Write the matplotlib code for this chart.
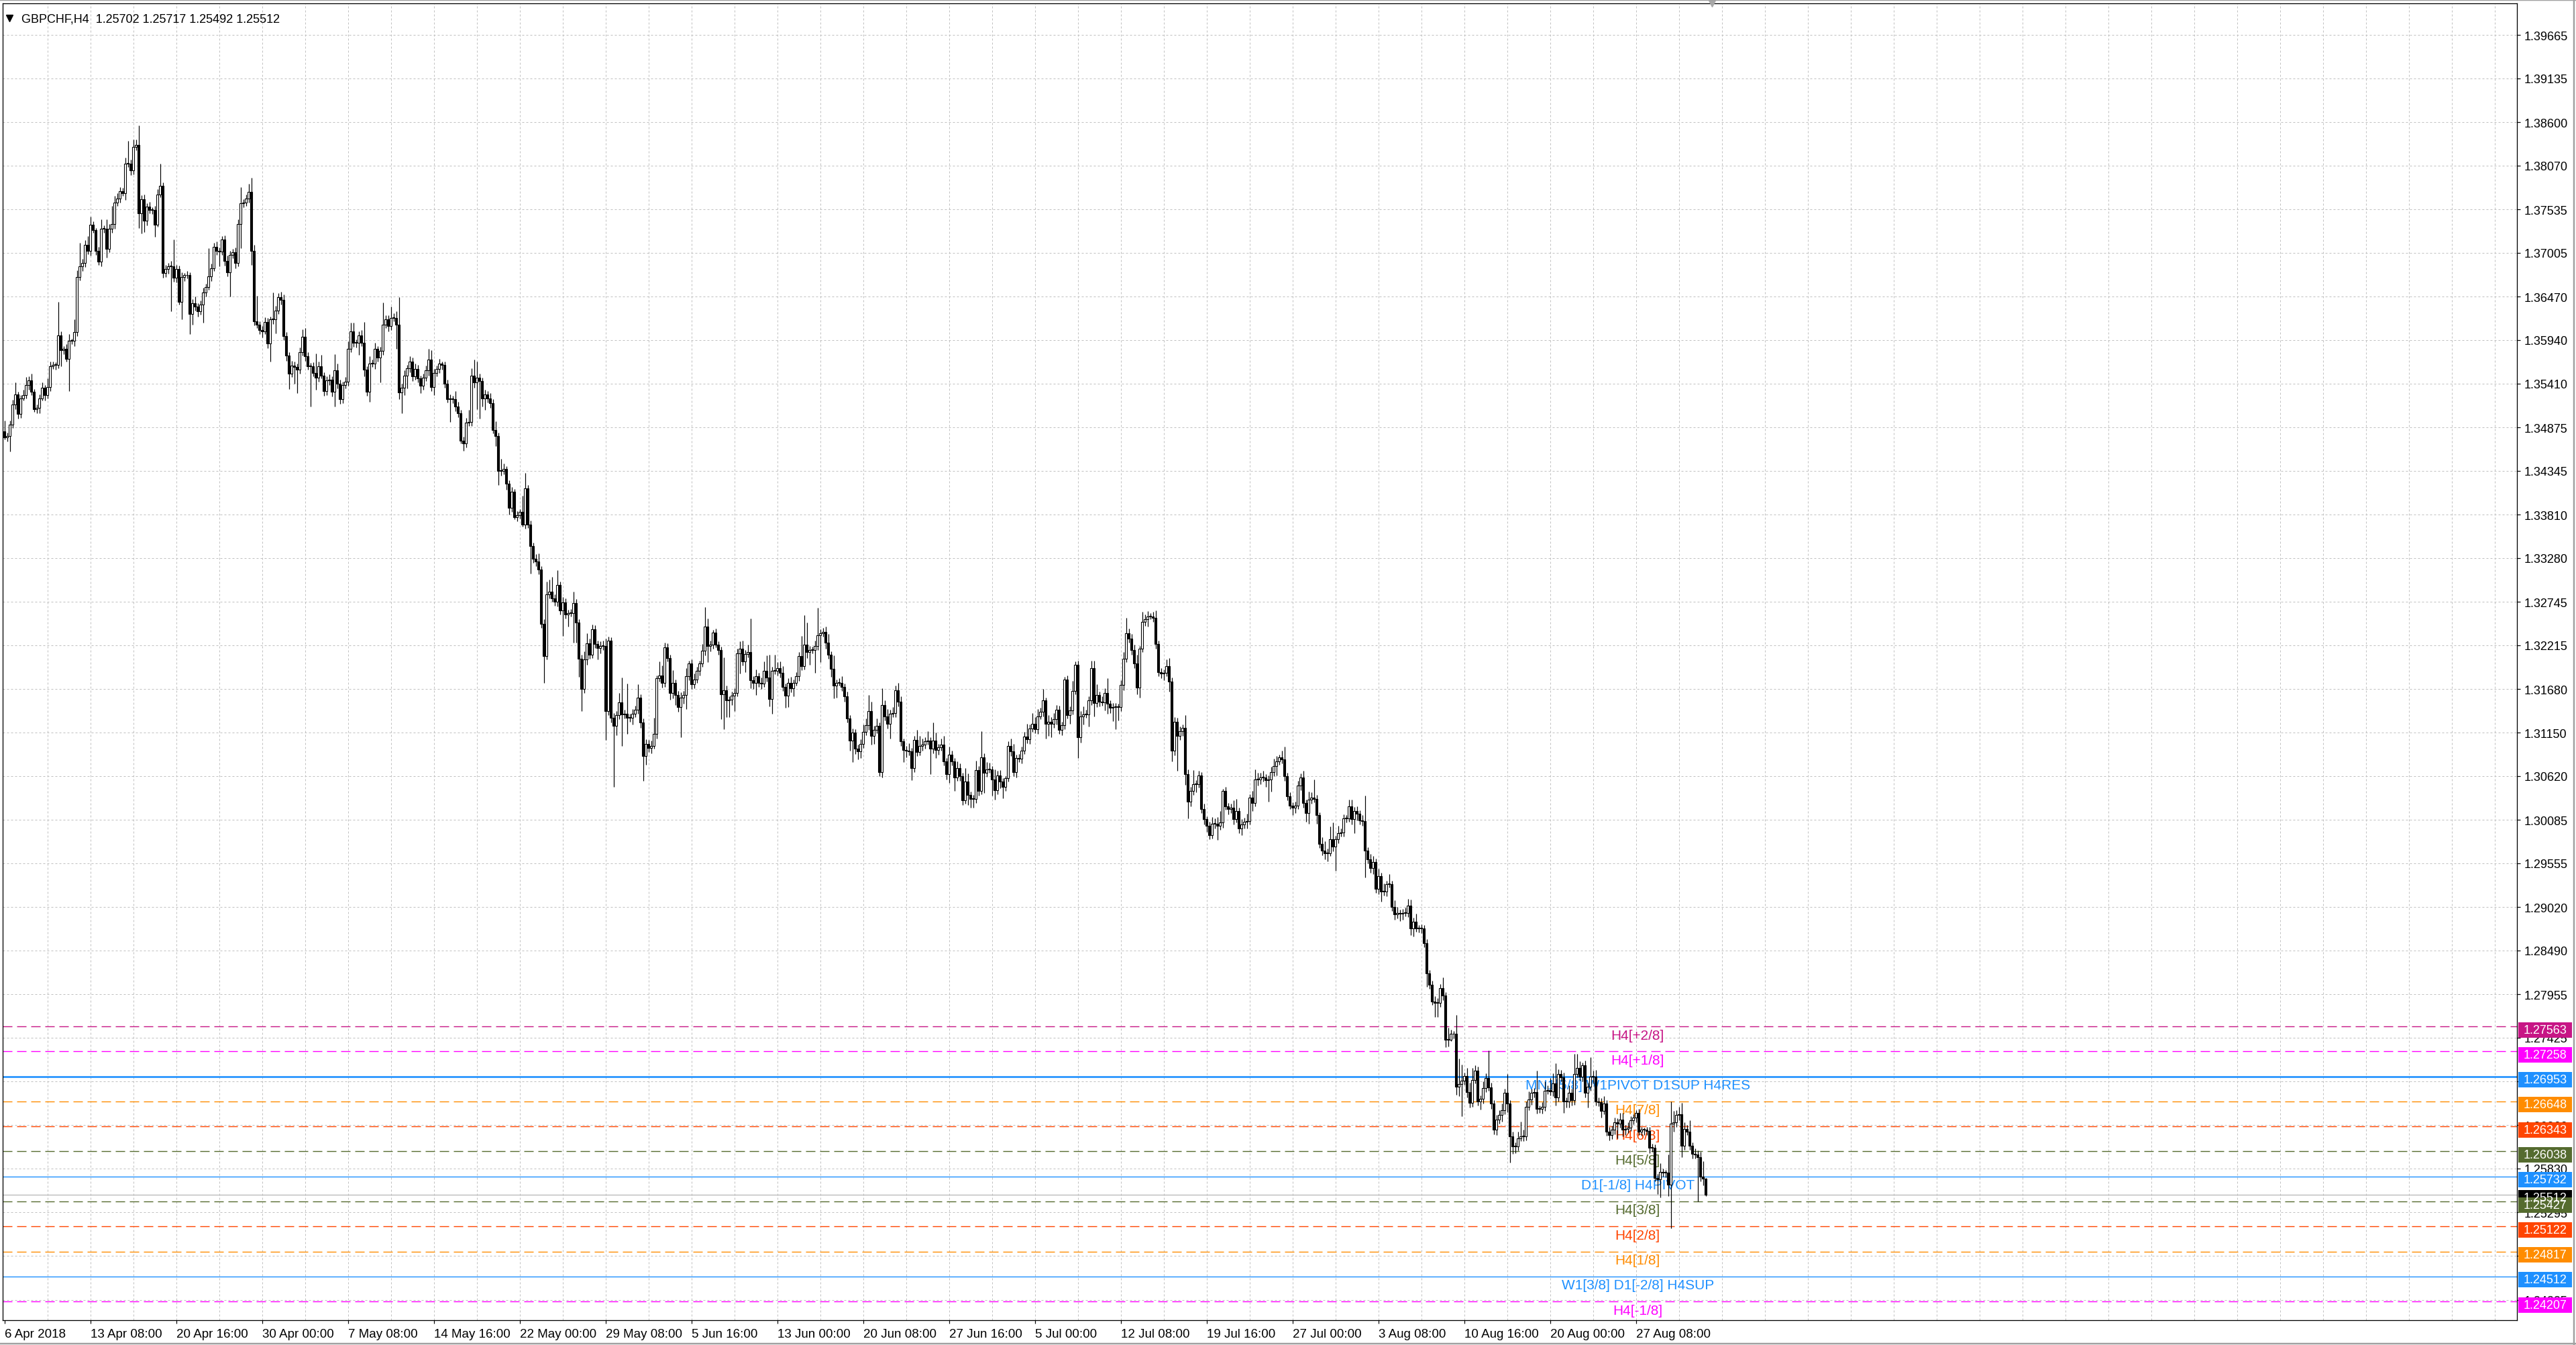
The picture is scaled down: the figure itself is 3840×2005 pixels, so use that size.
import matplotlib.pyplot as plt
import matplotlib.transforms as mtransforms
from matplotlib.patches import Rectangle
import numpy as np

plt.rcParams['font.family'] = ['Liberation Sans', 'DejaVu Sans']

header = "GBPCHF,H4  1.25702 1.25717 1.25492 1.25512"

# H4 candles, prices in 1/10000 (13475 -> 1.3475), open = previous close
first_open = 13483
closes = [
    13475, 13477, 13491, 13515, 13528, 13504, 13523, 13527, 13539, 13545,
    13531, 13510, 13511, 13523, 13536, 13527, 13537, 13562, 13564, 13564,
    13600, 13582, 13583, 13571, 13593, 13593, 13604, 13671, 13684, 13688,
    13710, 13703, 13735, 13728, 13703, 13690, 13730, 13730, 13705, 13730,
    13736, 13762, 13767, 13776, 13773, 13809, 13809, 13801, 13830, 13832,
    13749, 13766, 13740, 13757, 13753, 13753, 13735, 13772, 13782, 13676,
    13681, 13684, 13684, 13670, 13681, 13641, 13671, 13673, 13673, 13626,
    13639, 13635, 13629, 13637, 13652, 13659, 13672, 13682, 13708, 13703,
    13702, 13717, 13691, 13677, 13698, 13701, 13688, 13736, 13761, 13762,
    13767, 13775, 13703, 13617, 13613, 13606, 13605, 13616, 13590, 13619,
    13619, 13630, 13646, 13643, 13599, 13575, 13553, 13563, 13561, 13558,
    13579, 13598, 13574, 13562, 13562, 13554, 13548, 13562, 13551, 13532,
    13545, 13546, 13531, 13557, 13541, 13522, 13539, 13543, 13583, 13605,
    13591, 13591, 13600, 13591, 13558, 13531, 13565, 13565, 13583, 13573,
    13581, 13613, 13619, 13611, 13621, 13621, 13613, 13530, 13536, 13551,
    13560, 13568, 13550, 13559, 13547, 13538, 13548, 13557, 13570, 13537,
    13554, 13559, 13565, 13564, 13541, 13522, 13522, 13522, 13513, 13505,
    13471, 13468, 13493, 13494, 13551, 13542, 13548, 13544, 13523, 13528,
    13523, 13517, 13484, 13477, 13434, 13434, 13437, 13419, 13389, 13409,
    13378, 13380, 13384, 13369, 13413, 13369, 13343, 13327, 13324, 13314,
    13248, 13208, 13284, 13287, 13279, 13275, 13295, 13264, 13274, 13259,
    13261, 13261, 13273, 13249, 13205, 13168, 13204, 13224, 13210, 13241,
    13223, 13218, 13221, 13221, 13141, 13227, 13133, 13123, 13136, 13152,
    13137, 13138, 13133, 13133, 13138, 13143, 13158, 13127, 13086, 13101,
    13096, 13099, 13113, 13181, 13185, 13176, 13219, 13206, 13163, 13176,
    13161, 13146, 13158, 13161, 13184, 13199, 13174, 13180, 13190, 13199,
    13215, 13244, 13221, 13222, 13237, 13222, 13216, 13162, 13167, 13154,
    13155, 13160, 13163, 13212, 13217, 13202, 13211, 13213, 13179, 13176,
    13184, 13176, 13175, 13190, 13182, 13156, 13190, 13190, 13194, 13188,
    13171, 13160, 13176, 13169, 13176, 13184, 13208, 13196, 13222, 13213,
    13216, 13216, 13221, 13234, 13236, 13238, 13225, 13210, 13193, 13172,
    13176, 13176, 13171, 13159, 13132, 13105, 13115, 13095, 13092, 13101,
    13116, 13124, 13141, 13111, 13118, 13123, 13067, 13149, 13135, 13126,
    13138, 13139, 13167, 13153, 13104, 13094, 13093, 13092, 13072, 13106,
    13091, 13099, 13100, 13104, 13105, 13095, 13105, 13094, 13097, 13100,
    13080, 13064, 13088, 13080, 13060, 13072, 13062, 13032, 13055, 13039,
    13034, 13034, 13069, 13044, 13085, 13066, 13070, 13070, 13058, 13045,
    13063, 13055, 13049, 13059, 13099, 13092, 13067, 13084, 13083, 13093,
    13110, 13107, 13120, 13126, 13119, 13135, 13140, 13154, 13126, 13128,
    13126, 13131, 13143, 13118, 13124, 13180, 13136, 13142, 13166, 13198,
    13109, 13135, 13137, 13137, 13154, 13194, 13151, 13161, 13153, 13152,
    13163, 13150, 13145, 13146, 13146, 13146, 13173, 13205, 13236, 13230,
    13216, 13199, 13170, 13217, 13250, 13253, 13257, 13257, 13255, 13223,
    13189, 13187, 13188, 13196, 13177, 13093, 13128, 13111, 13117, 13121,
    13064, 13031, 13044, 13052, 13052, 13063, 13022, 13009, 13001, 12990,
    13004, 13004, 13001, 13005, 13044, 13025, 13022, 13023, 13009, 13019,
    12998, 13003, 13006, 13007, 13036, 13029, 13058, 13058, 13060, 13060,
    13057, 13058, 13067, 13074, 13080, 13085, 13082, 13062, 13037, 13026,
    13023, 13026, 13050, 13060, 13029, 13017, 13033, 13036, 13034, 13014,
    12979, 12971, 12968, 12968, 12985, 12976, 12985, 12992, 12993, 13010,
    13010, 13025, 13009, 13019, 13016, 13008, 13007, 12971, 12960, 12950,
    12957, 12924, 12940, 12921, 12921, 12930, 12930, 12902, 12893, 12895,
    12894, 12895, 12895, 12904, 12876, 12884, 12876, 12876, 12876, 12858,
    12821, 12807, 12787, 12785, 12785, 12803, 12794, 12740, 12740, 12747,
    12747, 12683, 12686, 12690, 12696, 12676, 12663, 12691, 12702, 12665,
    12668, 12681, 12693, 12682, 12662, 12630, 12643, 12648, 12654, 12675,
    12662, 12622, 12610, 12610, 12620, 12622, 12622, 12658, 12667, 12675,
    12676, 12656, 12656, 12658, 12678, 12679, 12677, 12687, 12670, 12698,
    12694, 12665, 12665, 12675, 12666, 12698, 12706, 12695, 12709, 12675,
    12683, 12695, 12695, 12665, 12664, 12653, 12662, 12628, 12624, 12630,
    12639, 12638, 12643, 12630, 12631, 12633, 12642, 12645, 12651, 12628,
    12630, 12630, 12629, 12608, 12608, 12571, 12570, 12579, 12578, 12578,
    12563, 12638, 12639, 12648, 12649, 12611, 12631, 12628, 12611, 12601,
    12600, 12597, 12573, 12570.2, 12551.2,
]
# wick length above / below the body, same units
wick_up = [
    13, 4, 5, 6, 14, 3, 4, 6, 10, 5,
    8, 3, 4, 5, 6, 3, 10, 6, 4, 3,
    41, 5, 4, 6, 8, 3, 15, 8, 29, 5,
    6, 11, 10, 4, 3, 5, 11, 4, 11, 6,
    22, 8, 6, 5, 4, 8, 28, 5, 9, 7,
    24, 5, 6, 4, 6, 3, 5, 6, 27, 4,
    5, 4, 7, 33, 5, 4, 6, 3, 5, 4,
    5, 8, 4, 5, 6, 4, 34, 5, 5, 6,
    4, 4, 5, 6, 5, 4, 6, 5, 20, 4,
    5, 10, 17, 7, 31, 4, 5, 6, 5, 4,
    33, 6, 5, 7, 7, 5, 4, 6, 5, 4,
    6, 9, 11, 5, 4, 5, 24, 6, 14, 4,
    5, 6, 4, 20, 8, 5, 4, 6, 9, 10,
    10, 4, 5, 6, 25, 4, 9, 5, 8, 4,
    5, 27, 5, 5, 14, 6, 8, 33, 5, 6,
    4, 6, 5, 6, 5, 4, 5, 6, 13, 12,
    5, 4, 6, 3, 4, 5, 6, 4, 10, 6,
    4, 5, 6, 15, 9, 19, 20, 5, 4, 5,
    4, 6, 5, 11, 4, 15, 6, 3, 4, 6,
    3, 5, 4, 20, 19, 4, 5, 4, 6, 10,
    4, 5, 15, 15, 18, 5, 18, 4, 6, 5,
    4, 5, 14, 5, 4, 5, 10, 12, 6, 6,
    5, 4, 5, 6, 9, 5, 4, 6, 5, 11,
    30, 5, 37, 5, 6, 5, 16, 4, 5, 6,
    5, 6, 20, 4, 17, 12, 6, 5, 4, 15,
    4, 5, 6, 5, 10, 4, 5, 7, 5, 4,
    8, 24, 10, 5, 3, 5, 4, 4, 40, 5,
    4, 5, 6, 5, 9, 10, 5, 9, 41, 5,
    8, 4, 6, 12, 19, 28, 5, 20, 7, 8,
    8, 4, 5, 7, 4, 5, 5, 25, 36, 27,
    5, 4, 6, 33, 5, 5, 6, 10, 4, 16,
    4, 5, 8, 4, 6, 4, 5, 4, 5, 6,
    9, 8, 20, 12, 5, 9, 4, 20, 5, 9,
    5, 7, 5, 9, 6, 4, 5, 9, 4, 5,
    12, 12, 8, 5, 12, 4, 22, 10, 4, 8,
    11, 4, 10, 5, 4, 8, 5, 4, 17, 10,
    4, 5, 12, 5, 32, 5, 9, 8, 4, 12,
    5, 6, 4, 3, 5, 9, 9, 4, 5, 5,
    6, 16, 5, 13, 8, 9, 5, 14, 4, 8,
    6, 8, 6, 5, 4, 3, 5, 5, 12, 4,
    5, 6, 10, 6, 5, 9, 9, 13, 4, 6,
    6, 18, 4, 5, 5, 4, 6, 8, 19, 6,
    5, 6, 11, 4, 12, 6, 6, 4, 5, 9,
    4, 5, 4, 8, 10, 5, 6, 5, 5, 4,
    15, 6, 5, 17, 5, 5, 4, 6, 4, 5,
    8, 6, 8, 14, 2, 5, 4, 5, 9, 15,
    4, 6, 5, 9, 4, 8, 12, 8, 6, 8,
    4, 5, 6, 9, 6, 3, 8, 16, 4, 5,
    4, 5, 6, 5, 8, 4, 10, 6, 22, 5,
    4, 8, 11, 5, 15, 20, 4, 9, 5, 5,
    4, 8, 8, 5, 6, 4, 6, 31, 4, 7,
    7, 4, 9, 4, 10, 4, 12, 4, 8, 7,
    4, 5, 6, 8, 7, 5, 10, 4, 5, 4,
    5, 4, 5, 6, 6, 5, 13, 4, 15, 5,
    4, 23, 31, 20, 4, 10, 12, 15, 7, 5,
    4, 8, 6, 34, 6, 4, 5, 6, 8, 5,
    23, 4, 6, 5, 8, 18, 8, 7, 10, 5,
    5, 26, 4, 6, 11, 5, 14, 12, 24, 6,
    5, 6, 5, 9, 5, 25, 17, 8, 3, 6,
    5, 24, 7, 8, 5, 5, 9, 4, 6, 5,
    6, 5, 8, 8, 5, 6, 5, 4, 3, 5,
    4, 3, 4, 5, 5, 4, 5, 10, 4, 3,
    22, 27, 14, 6, 9, 14, 8, 5, 14, 4,
    6, 5, 6, 19, 1.5,
]
wick_down = [
    2, 5, 19, 4, 5, 6, 5, 3, 4, 6,
    4, 4, 5, 6, 3, 7, 4, 5, 3, 6,
    4, 20, 5, 3, 39, 4, 6, 5, 4, 6,
    5, 4, 6, 3, 5, 4, 6, 5, 10, 4,
    5, 6, 4, 5, 3, 8, 4, 6, 5, 4,
    18, 25, 14, 6, 4, 5, 15, 3, 4, 6,
    5, 6, 55, 5, 6, 4, 22, 5, 4, 25,
    13, 5, 6, 4, 22, 5, 4, 6, 4, 5,
    18, 4, 6, 5, 30, 4, 6, 4, 30, 5,
    4, 5, 17, 5, 4, 5, 8, 4, 6, 22,
    5, 17, 4, 6, 5, 6, 19, 4, 20, 29,
    5, 4, 5, 4, 49, 4, 15, 5, 4, 6,
    5, 6, 6, 18, 6, 6, 5, 4, 5, 4,
    5, 6, 15, 4, 8, 5, 12, 4, 6, 5,
    31, 5, 4, 6, 5, 4, 30, 8, 25, 9,
    16, 5, 6, 4, 5, 9, 5, 4, 6, 5,
    10, 4, 5, 6, 5, 4, 28, 5, 6, 5,
    3, 9, 5, 4, 5, 6, 32, 46, 10, 14,
    5, 6, 4, 12, 17, 5, 4, 8, 8, 5,
    3, 5, 4, 3, 5, 4, 34, 5, 6, 6,
    5, 32, 4, 5, 4, 5, 6, 5, 31, 5,
    15, 4, 36, 24, 22, 27, 5, 6, 5, 4,
    5, 14, 6, 5, 35, 5, 6, 74, 11, 5,
    38, 5, 20, 5, 8, 4, 5, 6, 30, 10,
    5, 6, 4, 5, 4, 6, 5, 4, 8, 6,
    12, 6, 37, 8, 17, 5, 6, 5, 4, 5,
    4, 6, 20, 7, 5, 3, 6, 31, 43, 20,
    20, 6, 19, 4, 25, 5, 13, 4, 10, 8,
    15, 5, 7, 4, 5, 9, 18, 4, 5, 6,
    5, 15, 14, 5, 10, 4, 6, 5, 4, 7,
    15, 4, 28, 5, 33, 4, 8, 5, 10, 15,
    14, 4, 5, 6, 5, 12, 26, 6, 10, 8,
    5, 4, 6, 11, 10, 4, 5, 7, 5, 6,
    18, 4, 5, 6, 5, 15, 8, 5, 15, 5,
    5, 4, 6, 5, 4, 31, 5, 10, 6, 4,
    5, 6, 10, 5, 16, 4, 6, 5, 4, 12,
    11, 11, 5, 6, 4, 25, 5, 4, 20, 12,
    5, 8, 14, 5, 4, 6, 5, 7, 4, 6,
    4, 5, 6, 4, 5, 6, 4, 5, 18, 15,
    17, 5, 6, 5, 6, 5, 4, 10, 5, 4,
    25, 6, 10, 4, 15, 5, 16, 5, 6, 4,
    10, 12, 6, 16, 27, 16, 5, 6, 4, 5,
    6, 5, 8, 12, 4, 5, 9, 4, 5, 6,
    5, 6, 8, 4, 12, 13, 6, 43, 5, 6,
    13, 21, 6, 5, 10, 4, 5, 6, 7, 5,
    4, 6, 17, 5, 6, 4, 7, 5, 6, 4,
    6, 8, 5, 8, 4, 10, 4, 8, 6, 5,
    8, 26, 15, 5, 11, 4, 5, 6, 5, 4,
    9, 6, 4, 5, 6, 11, 13, 5, 4, 10,
    5, 6, 8, 10, 4, 6, 30, 5, 4, 5,
    5, 4, 6, 17, 8, 5, 6, 33, 5, 6,
    8, 5, 6, 12, 5, 6, 4, 5, 6, 5,
    9, 7, 4, 5, 8, 10, 4, 5, 6, 5,
    16, 5, 4, 17, 17, 5, 6, 9, 8, 2,
    5, 10, 12, 39, 5, 6, 6, 5, 4, 5,
    10, 6, 5, 4, 6, 5, 6, 5, 8, 5,
    10, 32, 9, 8, 5, 4, 6, 5, 4, 6,
    5, 6, 5, 6, 5, 4, 5, 6, 10, 5,
    5, 14, 8, 8, 6, 5, 4, 5, 6, 5,
    18, 5, 8, 5, 5, 8, 4, 5, 7, 5,
    5, 18, 5, 8, 6, 5, 4, 5, 6, 4,
    5, 6, 5, 6, 5, 4, 18, 22, 5, 6,
    14, 53, 10, 5, 6, 14, 5, 4, 5, 6,
    5, 54, 6, 8, 2,
]

date_labels = [
    "6 Apr 2018", "13 Apr 08:00", "20 Apr 16:00", "30 Apr 00:00",
    "7 May 08:00", "14 May 16:00", "22 May 00:00", "29 May 08:00",
    "5 Jun 16:00", "13 Jun 00:00", "20 Jun 08:00", "27 Jun 16:00",
    "5 Jul 00:00", "12 Jul 08:00", "19 Jul 16:00", "27 Jul 00:00",
    "3 Aug 08:00", "10 Aug 16:00", "20 Aug 00:00", "27 Aug 08:00",
]
price_labels = [
    "1.39665", "1.39135", "1.38600", "1.38070", "1.37535", "1.37005",
    "1.36470", "1.35940", "1.35410", "1.34875", "1.34345", "1.33810",
    "1.33280", "1.32745", "1.32215", "1.31680", "1.31150", "1.30620",
    "1.30085", "1.29555", "1.29020", "1.28490", "1.27955", "1.27425",
    "1.26890", "1.26360", "1.25830", "1.25295", "1.24760", "1.24225",
]

level_prices = [1.27563, 1.27258, 1.26953, 1.26648, 1.26343, 1.26038,
                1.25732, 1.25427, 1.25122, 1.24817, 1.24512, 1.24207]
level_names = ["H4[+2/8]", "H4[+1/8]", "MN1[5/8] W1PIVOT D1SUP H4RES",
               "H4[7/8]", "H4[6/8]", "H4[5/8]", "D1[-1/8] H4PIVOT",
               "H4[3/8]", "H4[2/8]", "H4[1/8]", "W1[3/8] D1[-2/8] H4SUP",
               "H4[-1/8]"]
level_colors = ["#C71585", "#FF00FF", "#1E90FF", "#FF8C00", "#FF4500",
                "#556B2F", "#1E90FF", "#556B2F", "#FF4500", "#FF8C00",
                "#1E90FF", "#FF00FF"]
level_kinds = ["dash", "dash", "thick", "dash", "dash", "dash", "solid",
               "dash", "dash", "dash", "solid", "dash"]
last_price = 1.25512

assert len(closes) == len(wick_up) == len(wick_down)

W, H = 3840, 2006
PX = 72 / 100  # points per pixel at dpi 100
fig = plt.figure(figsize=(W / 100, H / 100), dpi=100)
ax = fig.add_axes([4 / W, 37 / H, 3748 / W, 1963 / H])
ax.set_xlim(-0.675, 936.3)
ax.set_ylim(1.23978, 1.40050)

# candles
c = np.array(closes, dtype=float) / 10000
o = np.concatenate([[first_open / 10000], c[:-1]])
hi = np.maximum(o, c) + np.array(wick_up) / 10000
lo = np.minimum(o, c) - np.array(wick_down) / 10000
x = np.arange(len(c))
ax.vlines(x, lo, hi, color="black", lw=1.2 * PX, zorder=3)
bottom = np.minimum(o, c)
height = np.maximum(np.abs(c - o), 0.00008)
up = c >= o
ax.bar(x[up], height[up], bottom=bottom[up], width=0.7, facecolor="white",
       edgecolor="black", lw=1.1 * PX, zorder=4)
ax.bar(x[~up], height[~up], bottom=bottom[~up], width=0.7, facecolor="black",
       edgecolor="black", lw=1.1 * PX, zorder=4)

# grid
grid_style = dict(color="#C0C0C0", lw=1.0 * PX, ls=(0, (3, 3)), zorder=0.5)
for b in range(16, 937, 16):
    ax.axvline(b, **grid_style)
price_values = [float(s) for s in price_labels]
for v in price_values:
    ax.axhline(v, **grid_style)

# level lines and names
label_x = 608.6
for p, name, col, kind in zip(level_prices, level_names, level_colors, level_kinds):
    if kind == "thick":
        ax.axhline(p, color=col, lw=2.6 * PX, zorder=2)
    elif kind == "solid":
        ax.axhline(p, color=col, lw=1.4 * PX, zorder=2)
    else:
        ax.axhline(p, color=col, lw=1.4 * PX, ls=(0, (10, 5)), zorder=2)
    ax.annotate(name, (label_x, p), xytext=(0, -2.5), textcoords="offset points",
                ha="center", va="top", color=col, fontsize=15, zorder=2.2)
ax.axhline(last_price, color="#B8B8B8", lw=1.3 * PX, zorder=2)

# axes and ticks
for s in ax.spines.values():
    s.set_color("black")
    s.set_linewidth(1.3 * PX)
ax.yaxis.tick_right()
ax.set_yticks(price_values)
ax.set_yticklabels(price_labels)
ax.tick_params(axis="y", direction="out", length=5 * PX, width=1.2 * PX,
               pad=6 * PX, labelsize=13)
ax.set_xticks(range(0, 32 * len(date_labels), 32))
ax.set_xticklabels(date_labels, ha="left")
ax.tick_params(axis="x", direction="out", length=5 * PX, width=1.2 * PX,
               pad=7 * PX, labelsize=13.5)

# price boxes on the right axis
trans = mtransforms.blended_transform_factory(ax.transAxes, ax.transData)
box_x = 3750 / 3748
box_w = 80 / 3748
box_h = 23 / 12214
shift = 5 / 12214
boxes = [(last_price, "black")] + list(zip(level_prices, level_colors))
for i, (p, col) in enumerate(boxes):
    yc = p - shift
    ax.add_patch(Rectangle((box_x, yc - box_h / 2), box_w, box_h, transform=trans,
                           facecolor=col, edgecolor="none", clip_on=False,
                           zorder=6 + i * 0.01))
    ax.text(box_x + 8 / 3748, yc, f"{p:.5f}", transform=trans, color="white",
            fontsize=13, ha="left", va="center", clip_on=False, zorder=6.5 + i * 0.01)

# header and markers
ax.plot([0.0028], [0.9888], marker="v", ms=7, color="black",
        transform=ax.transAxes, clip_on=False)
fig.text(32 / W, 1 - 29 / H, header, fontsize=13, ha="left", va="center")
top_trans = mtransforms.blended_transform_factory(ax.transData, ax.transAxes)
ax.plot([636.3], [1.0], marker="v", ms=7, color="#A8A8A8",
        transform=top_trans, clip_on=False, zorder=7)

# window frame
frame = dict(color="#A0A0A0", lw=2.5 * PX, transform=fig.transFigure)
fig.add_artist(plt.Line2D([0, 1], [1 - 1 / H, 1 - 1 / H], **frame))
fig.add_artist(plt.Line2D([0, 1], [2 / H, 2 / H], **frame))
fig.add_artist(plt.Line2D([1 - 3 / W, 1 - 3 / W], [0, 1], **frame))

fig.savefig("out.png", dpi=100)
